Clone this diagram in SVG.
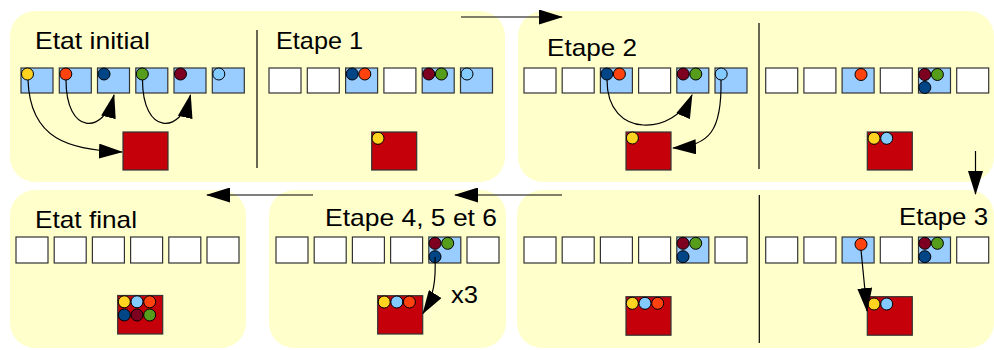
<svg xmlns="http://www.w3.org/2000/svg" width="994" height="350" viewBox="0 0 994 350">
<style>
.panel{fill:#ffffcc;stroke:none}
.div{stroke:#000;stroke-width:1.2;fill:none}
.bw{fill:#ffffff;stroke:#333;stroke-width:1.2}
.bb{fill:#99ccff;stroke:#333;stroke-width:1.2}
.red{fill:#c5000b;stroke:#333;stroke-width:1.2}
circle{stroke:#000;stroke-width:1}
.y{fill:#ffd320}.o{fill:#ff420e}.d{fill:#004586}.g{fill:#579d1c}.m{fill:#7e0021}.l{fill:#83caff}
.t{font-family:"Liberation Sans",Arial,sans-serif;font-size:24px;fill:#000}
.arr{stroke:#000;stroke-width:1.2;fill:none;marker-end:url(#ah)}
</style>
<defs>
<marker id="ah" markerUnits="userSpaceOnUse" markerWidth="24" markerHeight="15" refX="23" refY="7.5" orient="auto">
<path d="M0,0 L24,7.5 L0,15 z" fill="#000"/>
</marker>
</defs>

<g id="panel-top-left">
<rect class="panel" x="10" y="11" width="495" height="171" rx="25"/>
<line class="div" x1="257" y1="30" x2="257" y2="168"/>
<text class="t" x="35" y="49" textLength="115" lengthAdjust="spacingAndGlyphs">Etat initial</text>
<text class="t" x="276" y="49" textLength="87" lengthAdjust="spacingAndGlyphs">Etape 1</text>
<rect class="bb" x="21" y="68" width="32" height="25"/>
<rect class="bb" x="59.3" y="68" width="32" height="25"/>
<rect class="bb" x="97.5" y="68" width="32" height="25"/>
<rect class="bb" x="135.8" y="68" width="32" height="25"/>
<rect class="bb" x="174" y="68" width="32" height="25"/>
<rect class="bb" x="212.3" y="68" width="32" height="25"/>
<circle class="y" cx="27.5" cy="74" r="6"/>
<circle class="o" cx="65.8" cy="74" r="6"/>
<circle class="d" cx="104" cy="74" r="6"/>
<circle class="g" cx="142.3" cy="74" r="6"/>
<circle class="m" cx="180.5" cy="74" r="6"/>
<circle class="l" cx="218.8" cy="74" r="6"/>
<rect class="red" x="123" y="132" width="45" height="38"/>
<rect class="bw" x="269" y="68" width="32" height="25"/>
<rect class="bw" x="307.3" y="68" width="32" height="25"/>
<rect class="bb" x="345.6" y="68" width="32" height="25"/>
<rect class="bw" x="383.9" y="68" width="32" height="25"/>
<rect class="bb" x="422.2" y="68" width="32" height="25"/>
<rect class="bb" x="460.5" y="68" width="32" height="25"/>
<circle class="d" cx="352.2" cy="74" r="6"/>
<circle class="o" cx="364.8" cy="74" r="6"/>
<circle class="m" cx="428.8" cy="74" r="6"/>
<circle class="g" cx="441.4" cy="74" r="6"/>
<circle class="l" cx="467" cy="74" r="6"/>
<rect class="red" x="371.7" y="132" width="45" height="38"/>
<circle class="y" cx="378" cy="138.3" r="6"/>
</g>

<g id="panel-top-right">
<rect class="panel" x="518" y="11" width="476" height="171" rx="25"/>
<line class="div" x1="759" y1="23" x2="759" y2="169"/>
<text class="t" x="547" y="56" textLength="90" lengthAdjust="spacingAndGlyphs">Etape 2</text>
<rect class="bw" x="524" y="68" width="32" height="25"/>
<rect class="bw" x="562.2" y="68" width="32" height="25"/>
<rect class="bb" x="600.4" y="68" width="32" height="25"/>
<rect class="bw" x="638.6" y="68" width="32" height="25"/>
<rect class="bb" x="676.8" y="68" width="32" height="25"/>
<rect class="bb" x="715" y="68" width="32" height="25"/>
<circle class="d" cx="606.9" cy="74" r="6"/>
<circle class="o" cx="619.4" cy="74" r="6"/>
<circle class="m" cx="683.2" cy="74" r="6"/>
<circle class="g" cx="695.8" cy="74" r="6"/>
<circle class="l" cx="721.2" cy="74" r="6"/>
<rect class="red" x="626" y="132" width="45" height="38"/>
<circle class="y" cx="632.4" cy="138" r="6"/>
<rect class="bw" x="765.7" y="68" width="32" height="25"/>
<rect class="bw" x="803.9" y="68" width="32" height="25"/>
<rect class="bb" x="842.1" y="68" width="32" height="25"/>
<rect class="bw" x="880.3" y="68" width="32" height="25"/>
<rect class="bb" x="918.5" y="68" width="32" height="25"/>
<rect class="bw" x="956.7" y="68" width="32" height="25"/>
<circle class="o" cx="861" cy="74.5" r="6"/>
<circle class="m" cx="924.8" cy="74.5" r="6"/>
<circle class="g" cx="937.4" cy="74.5" r="6"/>
<circle class="d" cx="924.8" cy="87.5" r="6"/>
<rect class="red" x="867.3" y="132" width="45" height="38"/>
<circle class="y" cx="874" cy="138.3" r="6"/>
<circle class="l" cx="886.7" cy="138.3" r="6"/>
</g>

<g id="panel-bottom-left">
<rect class="panel" x="10" y="190" width="236" height="158" rx="25"/>
<text class="t" x="35" y="228" textLength="102" lengthAdjust="spacingAndGlyphs">Etat final</text>
<rect class="bw" x="16" y="237" width="32" height="26"/>
<rect class="bw" x="54.2" y="237" width="32" height="26"/>
<rect class="bw" x="92.4" y="237" width="32" height="26"/>
<rect class="bw" x="130.6" y="237" width="32" height="26"/>
<rect class="bw" x="168.8" y="237" width="32" height="26"/>
<rect class="bw" x="207" y="237" width="32" height="26"/>
<rect class="red" x="117.7" y="295.5" width="45" height="38.5"/>
<circle class="y" cx="124.3" cy="301.8" r="6"/>
<circle class="l" cx="137" cy="301.8" r="6"/>
<circle class="o" cx="149.7" cy="301.8" r="6"/>
<circle class="d" cx="124.3" cy="315" r="6"/>
<circle class="m" cx="137" cy="315" r="6"/>
<circle class="g" cx="149.7" cy="315" r="6"/>
</g>

<g id="panel-bottom-middle">
<rect class="panel" x="269" y="190" width="237" height="158" rx="25"/>
<text class="t" x="325" y="226" textLength="172" lengthAdjust="spacingAndGlyphs">Etape 4, 5 et 6</text>
<rect class="bw" x="276" y="237" width="32" height="26"/>
<rect class="bw" x="314.2" y="237" width="32" height="26"/>
<rect class="bw" x="352.4" y="237" width="32" height="26"/>
<rect class="bw" x="390.6" y="237" width="32" height="26"/>
<rect class="bb" x="428.8" y="237" width="32" height="26"/>
<rect class="bw" x="467" y="237" width="32" height="26"/>
<circle class="m" cx="435" cy="243.3" r="6"/>
<circle class="g" cx="447.7" cy="243.3" r="6"/>
<circle class="d" cx="435" cy="256.7" r="6"/>
<rect class="red" x="377.7" y="295.7" width="45" height="38.3"/>
<circle class="y" cx="384.2" cy="302" r="6"/>
<circle class="l" cx="396.8" cy="302" r="6"/>
<circle class="o" cx="409.4" cy="302" r="6"/>
<text class="t" x="451" y="303" textLength="27" lengthAdjust="spacingAndGlyphs">x3</text>
</g>

<g id="panel-bottom-right">
<rect class="panel" x="517" y="190" width="477" height="158" rx="25"/>
<line class="div" x1="759.3" y1="195" x2="759.3" y2="343"/>
<text class="t" x="899" y="225" textLength="89" lengthAdjust="spacingAndGlyphs">Etape 3</text>
<rect class="bw" x="524" y="237" width="32" height="26"/>
<rect class="bw" x="562.2" y="237" width="32" height="26"/>
<rect class="bw" x="600.4" y="237" width="32" height="26"/>
<rect class="bw" x="638.6" y="237" width="32" height="26"/>
<rect class="bb" x="676.8" y="237" width="32" height="26"/>
<rect class="bw" x="715" y="237" width="32" height="26"/>
<circle class="m" cx="683" cy="243.3" r="6"/>
<circle class="g" cx="695.7" cy="243.3" r="6"/>
<circle class="d" cx="683" cy="256.7" r="6"/>
<rect class="red" x="626" y="296.7" width="45" height="38.5"/>
<circle class="y" cx="632.3" cy="303.3" r="6"/>
<circle class="l" cx="645" cy="303.3" r="6"/>
<circle class="o" cx="657.7" cy="303.3" r="6"/>
<rect class="bw" x="765.7" y="237" width="32" height="26"/>
<rect class="bw" x="803.9" y="237" width="32" height="26"/>
<rect class="bb" x="842.1" y="237" width="32" height="26"/>
<rect class="bw" x="880.3" y="237" width="32" height="26"/>
<rect class="bb" x="918.5" y="237" width="32" height="26"/>
<rect class="bw" x="956.7" y="237" width="32" height="26"/>
<circle class="m" cx="924.8" cy="243.3" r="6"/>
<circle class="g" cx="937.4" cy="243.3" r="6"/>
<circle class="d" cx="924.8" cy="256.7" r="6"/>
<rect class="red" x="867.3" y="296.7" width="45" height="38.5"/>
<circle class="y" cx="874" cy="304" r="6"/>
<circle class="l" cx="886.7" cy="304" r="6"/>
<circle class="o" cx="861" cy="244.3" r="6"/>
</g>

<g id="connectors">
<path class="arr" d="M28,80 C30,140 70,150 122,152"/>
<path class="arr" d="M66,80 C66,135 104,135 114,95"/>
<path class="arr" d="M142.5,80 C142.5,135 181,135 190.5,95"/>
<path class="arr" d="M607,80 C607,140 675,135 692,95"/>
<path class="arr" d="M721,80 C722,130 710,146 673,148"/>
<path class="arr" d="M861,250 L867,311"/>
<path class="arr" d="M435,257 C436,280 434,296 423,313.5"/>
<path class="arr" d="M461,17 L562,17"/>
<path class="arr" d="M975.5,151 L975.5,194"/>
<path class="arr" d="M562,195 L455,195"/>
<path class="arr" d="M313,195 L207,195"/>
</g>
</svg>
